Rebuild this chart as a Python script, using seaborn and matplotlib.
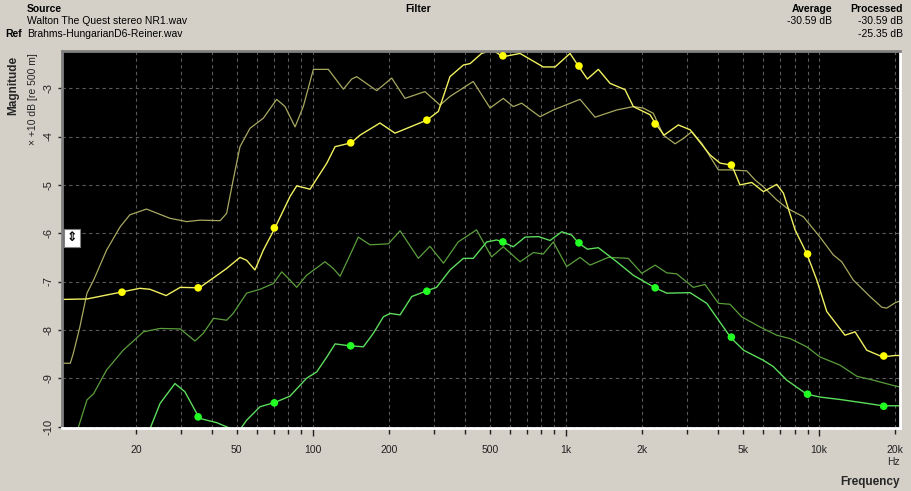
import matplotlib
matplotlib.use('Agg')
import matplotlib.pyplot as plt
import pandas as pd
import seaborn as sns

# bright yellow trace (with markers)
src_freq = [10.2, 12.8, 17.8, 20.7, 22.7, 26.3, 29.9, 35.6, 40.3, 45.6,
            51.5, 54.7, 59.0, 63.7, 70.8, 81.2, 86.3, 97.4, 113.5, 122.3,
            141.5, 153.6, 184, 211, 282, 313, 348, 393, 418, 464,
            493, 524, 562, 658, 813, 905, 1037, 1119, 1214, 1342,
            1493, 1711, 1845, 2148, 2249, 2440, 2778, 3092, 3707, 4060,
            4516, 4866, 5417, 6024, 6798, 7224, 8035, 8933, 9792, 10720,
            12650, 13870, 15420, 17830, 19950, 20880]
src_mag = [-7.37, -7.36, -7.21, -7.14, -7.16, -7.29, -7.12, -7.13, -6.93, -6.73,
           -6.50, -6.56, -6.76, -6.35, -5.89, -5.24, -5.02, -5.09, -4.55, -4.21,
           -4.13, -3.97, -3.72, -3.93, -3.66, -3.48, -2.76, -2.52, -2.49, -2.28,
           -2.24, -2.24, -2.35, -2.28, -2.56, -2.56, -2.28, -2.54, -2.81, -2.61,
           -2.90, -3.03, -3.38, -3.55, -3.72, -3.97, -3.76, -3.86, -4.38, -4.55,
           -4.59, -5.00, -4.95, -5.14, -4.99, -5.17, -5.93, -6.42, -6.97, -7.62,
           -8.11, -8.04, -8.42, -8.56, -8.53, -8.53]

# dim yellow trace
src2_freq = [10.2, 11.0, 11.3, 12.0, 12.8, 13.6, 15.3, 17.3, 18.9, 22.0,
             27.2, 31.7, 35.8, 43.0, 45.6, 48.4, 51.5, 56.4, 63.7, 71.9,
             77.6, 85.0, 91.6, 100.4, 115.1, 131.9, 142.3, 148.9, 178.6, 204.8,
             231, 277, 318, 348, 430, 501, 565, 619, 668, 789,
             891, 1136, 1302, 1586, 1845, 2019, 2213, 2423, 2697, 2907,
             3139, 3438, 3999, 4446, 5177, 5585, 6024, 6798, 7450, 8665,
             10080, 11380, 12280, 13650, 15890, 17670, 18500, 19950, 20880]
src2_mag = [-8.69, -8.69, -8.49, -7.94, -7.24, -6.97, -6.35, -5.87, -5.62, -5.50,
            -5.69, -5.76, -5.73, -5.74, -5.59, -4.90, -4.21, -3.83, -3.62, -3.23,
            -3.38, -3.80, -3.38, -2.61, -2.61, -3.02, -2.81, -2.76, -3.05, -2.79,
            -3.21, -3.07, -3.35, -3.17, -2.86, -3.41, -3.21, -3.38, -3.31, -3.59,
            -3.45, -3.23, -3.60, -3.45, -3.38, -3.41, -3.52, -3.97, -4.15, -4.04,
            -3.90, -4.14, -4.69, -4.69, -4.71, -4.90, -5.04, -5.31, -5.48, -5.66,
            -6.08, -6.45, -6.59, -6.97, -7.31, -7.53, -7.55, -7.44, -7.40]

# bright green trace (with markers)
ref_freq = [19.0, 22.7, 24.9, 28.5, 31.2, 35.6, 41.7, 47.8, 50.6, 54.7,
            61.8, 70.8, 81.2, 94.4, 103.5, 113.5, 122.3, 140.2, 158.3, 173.3,
            189.8, 201.7, 221, 245.7, 282, 308, 348, 393, 430, 486,
            532, 562, 619, 689, 778, 865, 962, 1054, 1119, 1214,
            1342, 1586, 1845, 1960, 2249, 2500, 3092, 3596, 4477, 5025,
            6024, 6592, 7450, 8933, 10080, 12100, 15420, 17830, 19950, 20880]
ref_mag = [-10.6, -10.05, -9.52, -9.11, -9.28, -9.83, -9.92, -10.05, -10.12, -9.87,
           -9.59, -9.50, -9.37, -9.00, -8.87, -8.56, -8.29, -8.33, -8.35, -8.07,
           -7.73, -7.66, -7.69, -7.31, -7.19, -7.12, -6.76, -6.52, -6.52, -6.18,
           -6.14, -6.18, -6.28, -6.08, -6.07, -6.15, -5.97, -6.04, -6.20, -6.33,
           -6.30, -6.59, -6.87, -6.95, -7.13, -7.24, -7.23, -7.45, -8.16, -8.42,
           -8.63, -8.76, -9.04, -9.33, -9.39, -9.44, -9.52, -9.57, -9.57, -9.57]

# dim green trace
ref2_freq = [11.0, 11.8, 12.8, 13.6, 15.3, 17.8, 21.4, 24.9, 29.9, 34.2,
             36.9, 40.5, 45.6, 48.4, 54.7, 61.8, 69.8, 75.3, 81.2, 86.3,
             94.4, 111.6, 120.4, 128.0, 140.2, 151.1, 168.1, 198.6, 221, 261,
             290, 328, 375, 443, 508, 565, 658, 743, 813, 891,
             1006, 1136, 1244, 1469, 1762, 1992, 2249, 2500, 2737, 3183,
             3541, 3999, 4446, 4943, 5843, 6798, 7674, 8933, 10080, 12100,
             14090, 16370, 19950, 20880]
ref2_mag = [-10.5, -10.04, -9.45, -9.32, -8.83, -8.42, -8.04, -7.97, -7.98, -8.23,
            -8.07, -7.76, -7.80, -7.66, -7.24, -7.16, -7.04, -6.80, -6.97, -7.12,
            -6.87, -6.59, -6.73, -6.89, -6.45, -6.08, -6.24, -6.22, -5.95, -6.52,
            -6.27, -6.62, -6.18, -5.93, -6.49, -6.28, -6.59, -6.40, -6.43, -6.18,
            -6.69, -6.50, -6.66, -6.50, -6.52, -6.83, -6.66, -6.82, -6.84, -7.12,
            -7.06, -7.45, -7.47, -7.73, -7.94, -8.11, -8.18, -8.35, -8.56, -8.73,
            -8.96, -9.04, -9.16, -9.18]

# octave markers
mark_freq = [17.6, 35.2, 70.4, 141, 282, 563, 1125, 2250, 4500, 9000, 18000]
src_mark_mag = [-7.22, -7.13, -5.89, -4.13, -3.66, -2.33, -2.54, -3.74, -4.59, -6.43, -8.54]
ref_mark_freq = [35.2, 70.4, 141, 282, 563, 1125, 2250, 4500, 9000, 18000]
ref_mark_mag = [-9.80, -9.51, -8.33, -7.20, -6.18, -6.20, -7.13, -8.15, -9.33, -9.58]

label_ticks = [20, 50, 100, 200, 500, 1000, 2000, 5000, 10000, 20000]
label_text = ['20', '50', '100', '200', '500', '1k', '2k', '5k', '10k', '20k']
grid_ticks = [20, 30, 40, 50, 60, 70, 80, 90,
              100, 200, 300, 400, 500, 600, 700, 800, 900,
              1000, 2000, 3000, 4000, 5000, 6000, 7000, 8000, 9000,
              10000, 20000]
y_ticks = [-10, -9, -8, -7, -6, -5, -4, -3]

sns.set_style('dark')
plt.rcParams['font.family'] = ['Liberation Sans', 'DejaVu Sans']

bg = '#d4d0c8'
fig = plt.figure(figsize=(9.11, 4.91), dpi=100, facecolor=bg)
ax = fig.add_axes([62 / 911, 1 - 428 / 491, 838 / 911, 377 / 491])
ax.set_facecolor('black')

ax.set_xscale('log')
ax.set_xlim(10.2, 20870)
ax.set_ylim(-10.03, -2.23)

# grid
for f in grid_ticks:
    ax.axvline(f, color='#5a5a5a', lw=0.8, ls=(0, (3, 3)), zorder=0)
for v in y_ticks:
    ax.axhline(v, color='#5a5a5a', lw=0.8, ls=(0, (3, 3)), zorder=0)

src = pd.DataFrame({'freq': src_freq, 'mag': src_mag})
src2 = pd.DataFrame({'freq': src2_freq, 'mag': src2_mag})
ref = pd.DataFrame({'freq': ref_freq, 'mag': ref_mag})
ref2 = pd.DataFrame({'freq': ref2_freq, 'mag': ref2_mag})

sns.lineplot(data=src2, x='freq', y='mag', ax=ax, color='#a8a860', lw=0.9, sort=False, estimator=None)
sns.lineplot(data=ref2, x='freq', y='mag', ax=ax, color='#5a9e3c', lw=0.9, sort=False, estimator=None)
sns.lineplot(data=ref, x='freq', y='mag', ax=ax, color='#5cdc5c', lw=1.0, sort=False, estimator=None)
sns.lineplot(data=src, x='freq', y='mag', ax=ax, color='#f0f060', lw=1.0, sort=False, estimator=None)

sns.scatterplot(x=mark_freq, y=src_mark_mag, ax=ax, color='#ffff00', s=30,
                marker='o', edgecolor='none', zorder=5)
sns.scatterplot(x=ref_mark_freq, y=ref_mark_mag, ax=ax, color='#22ff22', s=30,
                marker='o', edgecolor='none', zorder=5)

ax.set_xlabel('')
ax.set_ylabel('')
ax.grid(False)

ax.set_xticks([100, 1000, 10000], labels=['100', '1k', '10k'])
minor_pos = [f for f in grid_ticks if f not in (100, 1000, 10000)]
minor_lab = [label_text[label_ticks.index(f)] if f in label_ticks else '' for f in minor_pos]
ax.set_xticks(minor_pos, labels=minor_lab, minor=True)
ax.tick_params(axis='x', which='major', direction='out', length=6, width=1,
               color='#202020', labelsize=7.5, pad=6, bottom=True)
ax.tick_params(axis='x', which='minor', direction='out', length=4, width=1,
               color='#202020', labelsize=7.5, pad=8, bottom=True)
ax.set_yticks(y_ticks, labels=[str(v) for v in y_ticks])
ax.tick_params(axis='y', direction='out', length=3, width=1, color='#202020',
               labelsize=8, pad=3, left=True, labelrotation=90)
for t in ax.get_yticklabels():
    t.set_va('center')
ax.tick_params(colors='#202020', which='both')

for side in ['left', 'top']:
    ax.spines[side].set_color('#808080')
    ax.spines[side].set_linewidth(2)
for side in ['right', 'bottom']:
    ax.spines[side].set_color('white')
    ax.spines[side].set_linewidth(2)
for side in ax.spines:
    ax.spines[side].set_visible(True)

# header
hdr = dict(fontsize=7.5, color='black', va='center')
fig.text(27 / 911, 1 - 9 / 491, 'Source', fontweight='bold', ha='left', **hdr)
fig.text(405 / 911, 1 - 9 / 491, 'Filter', fontweight='bold', ha='left', **hdr)
fig.text(832 / 911, 1 - 9 / 491, 'Average', fontweight='bold', ha='right', **hdr)
fig.text(903 / 911, 1 - 9 / 491, 'Processed', fontweight='bold', ha='right', **hdr)
fig.text(27 / 911, 1 - 21 / 491, 'Walton The Quest stereo NR1.wav', ha='left', **hdr)
fig.text(832 / 911, 1 - 21 / 491, '-30.59 dB', ha='right', **hdr)
fig.text(903 / 911, 1 - 21 / 491, '-30.59 dB', ha='right', **hdr)
fig.text(5 / 911, 1 - 34 / 491, 'Ref', fontweight='bold', ha='left', **hdr)
fig.text(27 / 911, 1 - 34 / 491, 'Brahms-HungarianD6-Reiner.wav', ha='left', **hdr)
fig.text(903 / 911, 1 - 34 / 491, '-25.35 dB', ha='right', **hdr)

fig.text(13 / 911, 1 - 85 / 491, 'Magnitude', fontweight='bold', fontsize=8.5,
         rotation=90, ha='center', va='center')
fig.text(33 / 911, 1 - 99 / 491, '× +10 dB [re 500 m]', fontsize=7.5,
         rotation=90, ha='center', va='center')
fig.text(893 / 911, 1 - 462 / 491, 'Hz', fontsize=7.5, ha='center', va='center')
fig.text(900 / 911, 1 - 482 / 491, 'Frequency', fontweight='bold', fontsize=8.5,
         ha='right', va='center')

# little scale handle at the left edge of the plot
fig.text(72 / 911, 1 - 238 / 491, '⇕', fontsize=9, ha='center', va='center',
         color='black', family='DejaVu Sans', fontweight='bold',
         bbox=dict(boxstyle='square,pad=0.2', fc='white', ec='#808080', lw=0.8))

fig.savefig('out.png', dpi=100, facecolor=bg)
